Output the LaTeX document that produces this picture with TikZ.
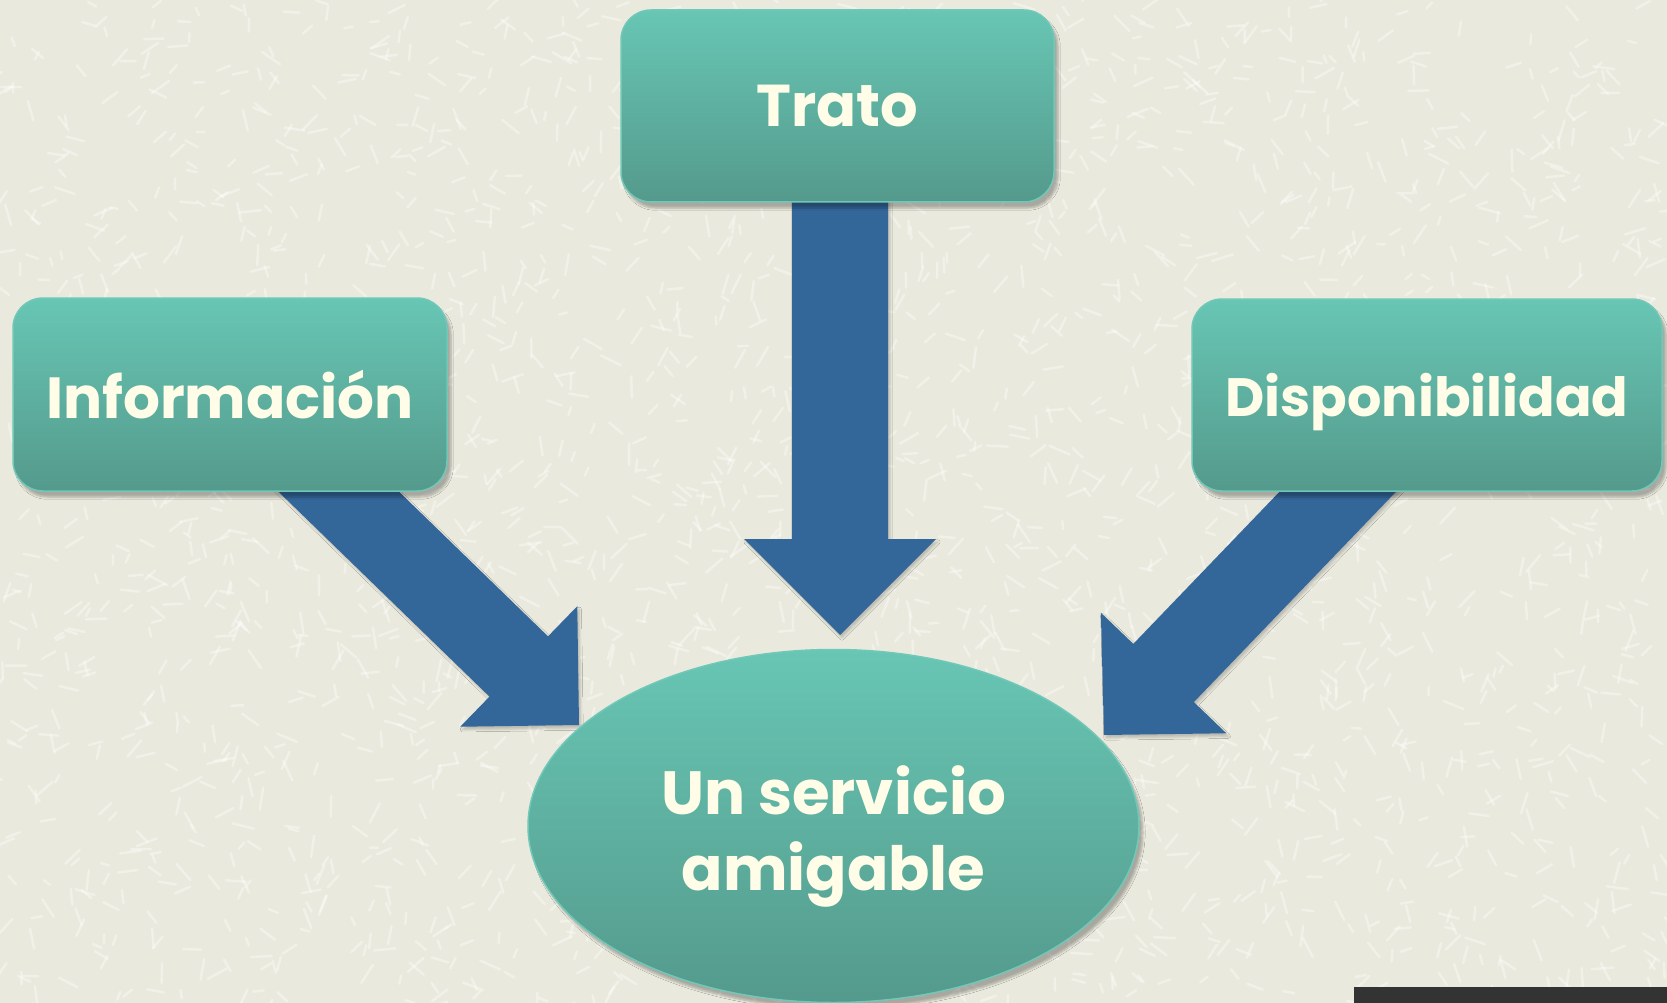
\documentclass[tikz,border=0pt]{standalone}
\usepackage{fontspec}
\setmainfont{Poppins}
\usetikzlibrary{calc,shadows,shadows.blur,shapes.geometric}
\definecolor{bg}{RGB}{234,233,221}
\definecolor{tealtop}{RGB}{104,198,180}
\definecolor{tealbot}{RGB}{84,154,140}
\definecolor{tealedge}{RGB}{112,200,184}
\definecolor{arrowblue}{RGB}{51,102,153}
\definecolor{cream}{RGB}{255,253,232}
\definecolor{barcol}{RGB}{51,51,51}
\newcommand{\blockarrow}[5]{%
  \coordinate (bahead) at ($(#2)!#5!(#1)$);
  \fill[arrowblue, blur shadow={shadow blur steps=4, shadow xshift=2pt, shadow yshift=-3pt, shadow opacity=20}]
    ($(#1)!#3!90:(#2)$) -- ($(bahead)!#3!90:(#2)$) -- ($(bahead)!#4!90:(#2)$) --
    (#2) -- ($(bahead)!#4!-90:(#2)$) -- ($(bahead)!#3!-90:(#2)$) --
    ($(#1)!#3!-90:(#2)$) -- cycle;
}
\tikzset{
  boxstyle/.style={rectangle, rounded corners=30pt, draw=tealedge, line width=1.5pt,
    top color=tealtop, bottom color=tealbot, text=cream, inner sep=0pt,
    blur shadow={shadow blur steps=6, shadow xshift=4pt, shadow yshift=-6pt, shadow opacity=28}},
  ellstyle/.style={ellipse, draw=tealedge, line width=1.5pt,
    top color=tealtop, bottom color=tealbot, inner sep=0pt,
    blur shadow={shadow blur steps=6, shadow xshift=4pt, shadow yshift=-6pt, shadow opacity=28}},
  txtstyle/.style={text=cream, inner sep=0pt, align=center}
}
\begin{document}
\begin{tikzpicture}[x=1pt,y=-1pt]
\useasboundingbox (0,0) rectangle (1667,1003);
\fill[bg] (0,0) rectangle (1667,1003);
\pgfmathsetseed{7}
\foreach \i in {1,...,2600}{
  \pgfmathsetmacro\xx{rnd*1667}
  \pgfmathsetmacro\yy{rnd*1003}
  \pgfmathsetmacro\aa{rnd*360}
  \pgfmathsetmacro\ll{8+rnd*14}
  \draw[white, opacity=.38, line width=2.5, line cap=round] (\xx,\yy) -- ++(\aa:\ll);
}
% arrows (drawn first, boxes cover their starts)
\coordinate (sT) at (840,180);
\coordinate (tT) at (840,635);
\coordinate (sL) at (302,456);
\coordinate (tL) at (579,725);
\coordinate (sR) at (1374,454);
\coordinate (tR) at (1104,735);
\blockarrow{sT}{tT}{48pt}{96pt}{96pt}
\blockarrow{sL}{tL}{42pt}{84pt}{84pt}
\blockarrow{sR}{tR}{42pt}{87pt}{86pt}
% nodes
\node[boxstyle, minimum width=433, minimum height=192, font=\fontsize{59}{70}\selectfont\bfseries] (trato) at (837.5,106) {Trato};
\node[boxstyle, minimum width=434, minimum height=193, font=\fontsize{58}{70}\selectfont\bfseries] (info) at (230,394.5) {Información};
\node[boxstyle, minimum width=470, minimum height=192, text depth=0pt, font=\fontsize{54}{70}\selectfont\bfseries] (disp) at (1427,395) {Disponibilidad};
\node[ellstyle, minimum width=611, minimum height=353] (serv) at (833.5,826) {};
\node[txtstyle, font=\fontsize{61}{76}\selectfont\bfseries] (servtxt) at ($(serv.center)+(0,10)$) {Un servicio\\amigable};
\fill[barcol] (1354,987) rectangle (1667,1003);
\end{tikzpicture}
\end{document}
